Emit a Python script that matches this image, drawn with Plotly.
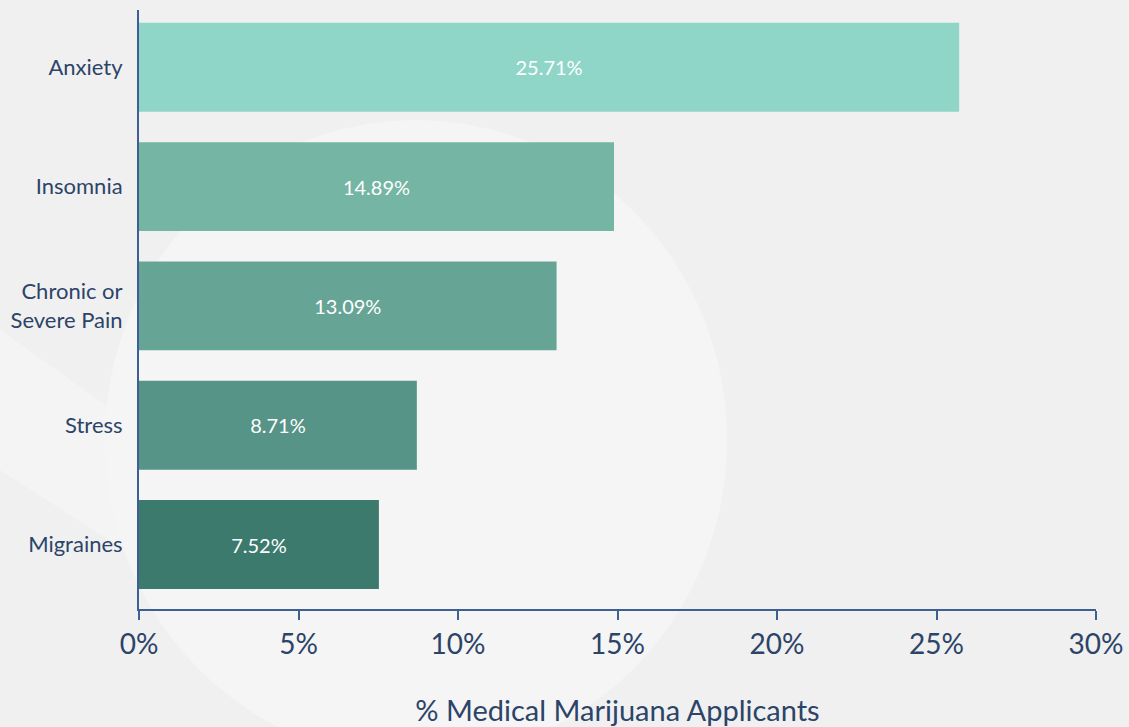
import plotly.graph_objects as go

categories = ["Migraines", "Stress", "Chronic or<br>Severe Pain", "Insomnia", "Anxiety"]
values = [7.52, 8.71, 13.09, 14.89, 25.71]
labels = ["7.52%", "8.71%", "13.09%", "14.89%", "25.71%"]
colors = ["#3c7a6d", "#559486", "#66a596", "#74b5a3", "#8fd6c8"]
x_ticks = [0, 5, 10, 15, 20, 25, 30]
x_ticklabels = ["0%", "5%", "10%", "15%", "20%", "25%", "30%"]

W, H = 1129, 727
L, R, T, B = 139, 33, 10, 118
pw, ph = W - L - R, H - T - B

def px(x):
    return (x - L) / pw

def py(y):
    return (H - B - y) / ph

fig = go.Figure()
fig.add_trace(go.Bar(
    y=categories, x=values, orientation="h",
    marker=dict(color=colors, line=dict(width=0)),
    text=labels, textposition="inside", insidetextanchor="middle",
    textfont=dict(color="white", size=20, family="Lato"),
    width=0.745, hoverinfo="skip",
))

shapes = [
    dict(type="path", xref="paper", yref="paper", layer="below",
         path=f"M {px(0)} {py(330)} L {px(0)} {py(470)} L {px(400)} {py(727)} L {px(560)} {py(727)} Z",
         fillcolor="#f4f4f4", line=dict(width=0)),
    dict(type="circle", xref="paper", yref="paper", layer="below",
         x0=px(105), x1=px(727), y0=py(120), y1=py(760),
         fillcolor="#f5f5f5", line=dict(width=0)),
]

fig.update_layout(
    width=W, height=H,
    margin=dict(l=L, r=R, t=T, b=B, pad=0, autoexpand=False),
    paper_bgcolor="#f0f0f0", plot_bgcolor="rgba(0,0,0,0)",
    showlegend=False, bargap=0.25, shapes=shapes,
    font=dict(family="Lato", color="#2c4468"),
)
fig.update_xaxes(
    range=[0, 30], tickvals=x_ticks, ticktext=x_ticklabels, automargin=False,
    showgrid=False, zeroline=False, showline=True, linecolor="#3d5f94", linewidth=2,
    ticks="outside", ticklen=9, tickwidth=2, tickcolor="#3d5f94",
    tickfont=dict(size=28, color="#2c4468"), ticklabelstandoff=0,
    title=dict(text="% Medical Marijuana Applicants", font=dict(size=29, color="#2c4468"), standoff=42),
)
fig.update_yaxes(
    range=[-0.54, 4.48], showgrid=False, zeroline=False, automargin=False,
    showline=True, linecolor="#3d5f94", linewidth=2, ticks="", ticklen=0,
    tickfont=dict(size=22, color="#2c4468"), ticklabelstandoff=10,
)
fig.write_html("out.html")
